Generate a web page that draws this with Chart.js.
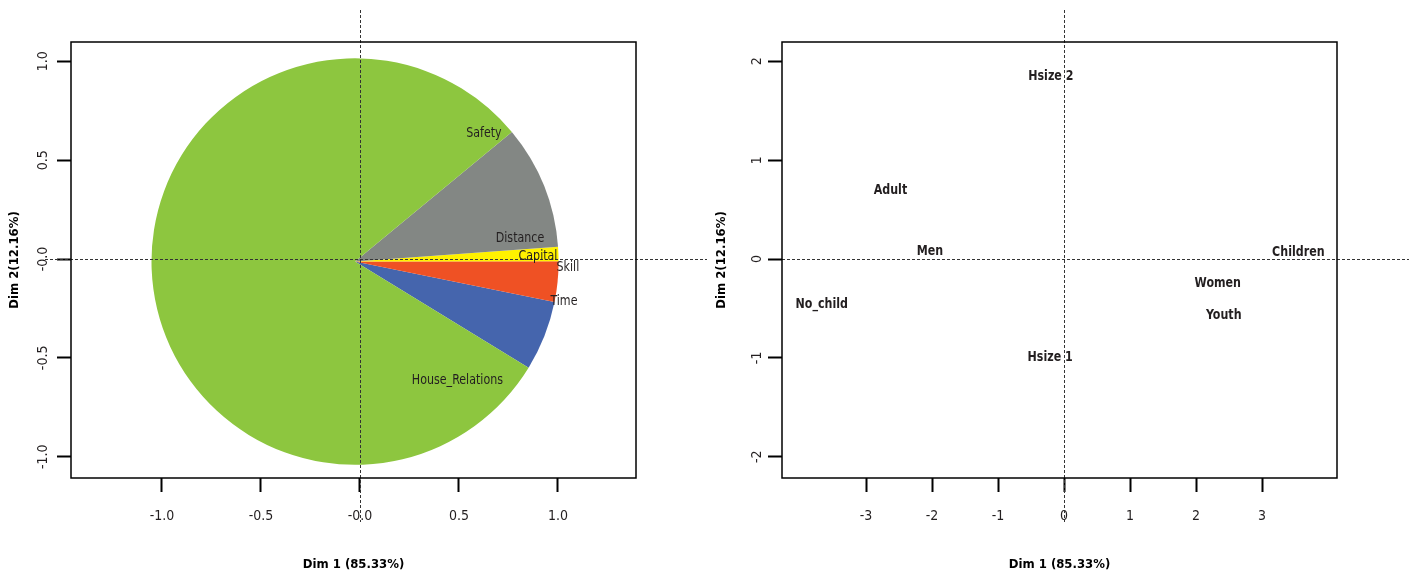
<!DOCTYPE html>
<html>
<head>
<meta charset="utf-8">
<title>Dim 1 / Dim 2</title>
<script src="https://cdn.jsdelivr.net/npm/chart.js@4.4.1/dist/chart.umd.min.js"></script>
<style>
  html, body { margin: 0; padding: 0; background: #fff; }
  #wrap { display: flex; width: 1414px; height: 575px; }
  canvas { display: block; }
</style>
</head>
<body>
<div id="wrap">
  <canvas id="varChart" width="707" height="575"></canvas>
  <canvas id="catChart" width="707" height="575"></canvas>
</div>
<script>
// left panel: pie laid over the Dim 1 / Dim 2 plane
const sliceNames = ['Time', 'Skill', 'Capital', 'Distance', 'Safety / House_Relations'];
const sliceDegrees = [20.0, 11.6, 4.1, 35.4, 288.9];
const sliceColors = ['#4565ad', '#ef5124', '#fff200', '#838784', '#8dc63f'];
const sliceStart = -31.5; // first slice starts here, then anticlockwise
const pieCenter = [-0.025, -0.013];
const pieRadius = 1.028;

const varNames = ['Safety', 'Distance', 'Capital', 'Skill', 'Time', 'House_Relations'];
const varX = [0.626, 0.808, 0.899, 1.05, 1.03, 0.492];
const varY = [0.636, 0.106, 0.015, -0.04, -0.212, -0.616];

const leftTicks = [-1, -0.5, 0, 0.5, 1];
const leftTickText = ['-1.0', '-0.5', '-0.0', '0.5', '1.0'];

// right panel: categories
const catNames = ['Hsize 2', 'Adult', 'Men', 'No_child', 'Hsize 1', 'Children', 'Women', 'Youth'];
const catX = [-0.20, -2.63, -2.03, -3.67, -0.21, 3.55, 2.33, 2.42];
const catY = [1.85, 0.69, 0.074, -0.455, -0.99, 0.07, -0.245, -0.566];

const rightXTicks = [-3, -2, -1, 0, 1, 2, 3];
const rightXTickText = ['-3', '-2', '-1', '0', '1', '2', '3'];
const rightYTicks = [-2, -1, 0, 1, 2];
const rightYTickText = ['-2', '-1', '0', '1', '2'];

const xTitle = 'Dim 1 (85.33%)';
const yTitle = 'Dim 2(12.16%)';

const FONT = "'Liberation Sans Narrow', 'DejaVu Sans Condensed', 'Arial Narrow', sans-serif";
Chart.defaults.font.family = FONT;
Chart.defaults.color = '#231f20';

const framePlugin = {
  id: 'frame',
  beforeDatasetsDraw(chart, args, opts) {
    if (!opts.pie) return;
    const { ctx, scales: { x, y } } = chart;
    const cx = x.getPixelForValue(pieCenter[0]);
    const cy = y.getPixelForValue(pieCenter[1]);
    const rx = x.getPixelForValue(pieCenter[0] + pieRadius) - cx;
    const ry = cy - y.getPixelForValue(pieCenter[1] + pieRadius);
    let a = sliceStart * Math.PI / 180;
    ctx.save();
    sliceDegrees.forEach((deg, i) => {
      const b = a + deg * Math.PI / 180;
      ctx.beginPath();
      ctx.moveTo(cx, cy);
      ctx.ellipse(cx, cy, rx, ry, 0, -b, -a, false);
      ctx.closePath();
      ctx.fillStyle = sliceColors[i];
      ctx.fill();
      a = b;
    });
    ctx.restore();
  },
  afterDatasetsDraw(chart, args, opts) {
    const { ctx, chartArea: ca, scales: { x, y } } = chart;
    ctx.save();
    // dashed zero lines, running past the frame like the original
    ctx.strokeStyle = '#333';
    ctx.lineWidth = 1;
    ctx.setLineDash([3, 2]);
    const x0 = Math.round(x.getPixelForValue(0)) + 0.5;
    const y0 = Math.round(y.getPixelForValue(0)) + 0.5;
    ctx.beginPath();
    ctx.moveTo(x0, ca.top - 32);
    ctx.lineTo(x0, ca.bottom + 44);
    ctx.moveTo(ca.left + opts.hLineFrom, y0);
    ctx.lineTo(chart.width - opts.hLineTo, y0);
    ctx.stroke();
    ctx.setLineDash([]);

    // box
    ctx.lineWidth = 1.5;
    ctx.strokeStyle = '#000';
    ctx.strokeRect(ca.left, ca.top, ca.right - ca.left, ca.bottom - ca.top);

    // text labels at the points (squeezed a bit, the original uses a narrow face)
    const meta = chart.getDatasetMeta(0);
    const names = chart.data.labels;
    ctx.fillStyle = '#231f20';
    ctx.font = opts.labelFont;
    ctx.textAlign = 'center';
    ctx.textBaseline = 'middle';
    meta.data.forEach((pt, i) => {
      ctx.save();
      ctx.translate(pt.x, pt.y);
      ctx.scale(0.88, 1);
      ctx.fillText(names[i], 0, 0);
      ctx.restore();
    });
    ctx.restore();
  }
};

function xAxis(min, max, ticks, tickText) {
  return {
    type: 'linear',
    min, max,
    afterBuildTicks: s => { s.ticks = ticks.map(v => ({ value: v })); },
    afterFit: s => { s.height = 97; },
    ticks: {
      callback: (v, i) => tickText[i],
      padding: 16,
      font: { size: 14 },
      maxRotation: 0,
      autoSkip: false
    },
    grid: { display: true, drawOnChartArea: false, drawTicks: true, tickLength: 14, tickWidth: 2, tickColor: '#000' },
    border: { display: false },
    title: { display: true, text: xTitle, color: '#000', font: { size: 13, weight: 'bold' }, padding: { top: 0, bottom: 3 } }
  };
}

function yAxis(min, max, ticks, tickText, width, pad) {
  return {
    type: 'linear',
    min, max,
    afterBuildTicks: s => { s.ticks = ticks.map(v => ({ value: v })); },
    afterFit: s => { s.width = width; },
    ticks: {
      callback: (v, i) => tickText[i],
      padding: pad,
      font: { size: 14 },
      minRotation: 90,
      maxRotation: 90,
      crossAlign: 'center',
      autoSkip: false
    },
    grid: { display: true, drawOnChartArea: false, drawTicks: true, tickLength: 14, tickWidth: 2, tickColor: '#000' },
    border: { display: false },
    title: { display: true, text: yTitle, color: '#000', font: { size: 13, weight: 'bold' }, padding: { top: 7, bottom: 0 } }
  };
}

function baseOptions(padRight, xs, ys, pluginOpts) {
  return {
    responsive: false,
    animation: false,
    layout: { padding: { top: 42, right: padRight, left: 0, bottom: 0 } },
    scales: { x: xs, y: ys },
    plugins: {
      legend: { display: false },
      tooltip: { enabled: false },
      frame: pluginOpts
    }
  };
}

new Chart(document.getElementById('varChart'), {
  type: 'scatter',
  data: {
    labels: varNames,
    datasets: [{ data: varX.map((x, i) => ({ x, y: varY[i] })), pointRadius: 0 }]
  },
  options: baseOptions(71,
    xAxis(-1.4596, 1.394, leftTicks, leftTickText),
    yAxis(-1.1076, 1.0975, leftTicks, leftTickText, 71, 1),
    { pie: true, hLineFrom: -26, hLineTo: 0, labelFont: '14px ' + FONT }),
  plugins: [framePlugin]
});

new Chart(document.getElementById('catChart'), {
  type: 'scatter',
  data: {
    labels: catNames,
    datasets: [{ data: catX.map((x, i) => ({ x, y: catY[i] })), pointRadius: 0 }]
  },
  options: baseOptions(77,
    xAxis(-4.273, 4.136, rightXTicks, rightXTickText),
    yAxis(-2.215, 2.195, rightYTicks, rightYTickText, 75, 4),
    { pie: false, hLineFrom: 0, hLineTo: 5, labelFont: 'bold 14px ' + FONT }),
  plugins: [framePlugin]
});
</script>
</body>
</html>
